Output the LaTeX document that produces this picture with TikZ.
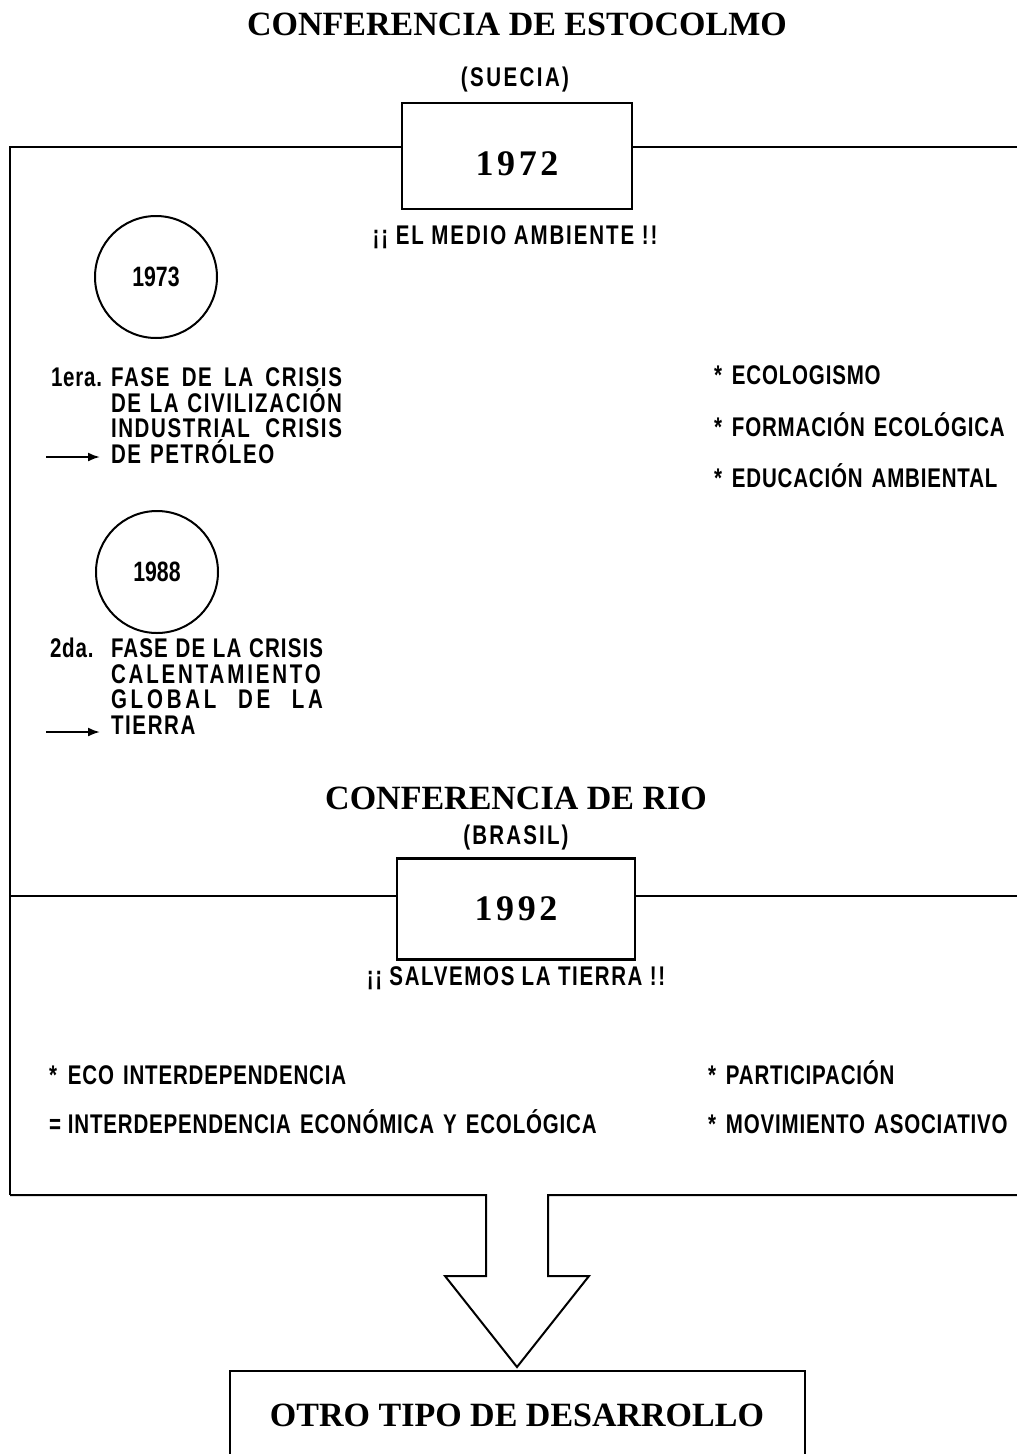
\documentclass[tikz,border=0pt]{standalone}
\usepackage{fontspec}
\setmainfont{Liberation Serif}
\newfontfamily\rotulo[FakeStretch=0.76]{Liberation Sans}
\usetikzlibrary{arrows.meta,positioning,calc}
\newcommand{\justo}[1]{\makebox[\hsize][l]{#1}}

\begin{document}
\begin{tikzpicture}[x=1pt,y=-1pt,>={Latex[length=12pt,width=9pt]},line width=2pt,node distance=25.5pt,
  titulo/.style={font=\fontsize{34}{40}\selectfont\bfseries,inner sep=0pt},
  texto/.style={font=\rotulo\bfseries\fontsize{27}{30}\selectfont\addfontfeature{LetterSpace=3},inner sep=0pt},
  espaciado/.style={font=\rotulo\bfseries\fontsize{27}{30}\selectfont\addfontfeature{LetterSpace=#1},inner sep=0pt},
  espaciado/.default=7,
  anio/.style={draw,line width=2.5pt,font=\fontsize{36}{40}\selectfont\bfseries\addfontfeature{LetterSpace=10}},
  fecha/.style={draw,circle,minimum size=122pt,inner sep=0pt,font=\rotulo\bfseries\fontsize{28}{30}\selectfont},
  renglon/.style={font=\rotulo\bfseries\fontsize{27}{30}\selectfont\addfontfeature{LetterSpace=6},inner sep=0pt,
    text width=#1,align=left,text height=19pt,text depth=0pt},
  lista/.style={texto,text width=#1,align=left,text height=19pt,text depth=0pt}
]
\useasboundingbox (0,0) rectangle (1017,1454);

% esquinas del marco
\coordinate (nw) at (10,147);
\coordinate (ne) at (1017,147);
\coordinate (mw) at (10,896);
\coordinate (me) at (1017,896);
\coordinate (sw) at (10,1195);
\coordinate (se) at (1017,1195);

% Estocolmo
\node[titulo]    (estocolmo) at (517,24)  {CONFERENCIA DE ESTOCOLMO};
\node[espaciado=9] (suecia) at (515,80) {(SUECIA)};
\node[anio,minimum width=230pt,minimum height=106pt,text height=38pt,text depth=0pt] (caja72) at (517,156) {1972};
\node[espaciado] (lema72)    at (515,237) {¡¡ EL MEDIO AMBIENTE !!};

\node[fecha] (f73) at (156,277) {1973};
\node[texto,anchor=west] (era) at (50,377) {1era.};
\node[renglon=231pt,anchor=west] (c1a) at (110,377) {\justo{FASE\hfill DE\hfill LA\hfill CRISIS}};
\node[renglon=231pt] (c1b) [below of=c1a] {\justo{DE\hfill LA\hfill CIVILIZACIÓN}};
\node[renglon=231pt] (c1c) [below of=c1b] {\justo{INDUSTRIAL\hfill CRISIS}};
\node[renglon=231pt] (c1d) [below of=c1c] {DE PETRÓLEO};

\node[fecha] (f88) at (157,572) {1988};
\node[texto,anchor=west] (da) at (49,648) {2da.};
\node[renglon=212pt,anchor=west] (c2a) at (110,648) {\justo{\addfontfeature{LetterSpace=4}FASE\hfill DE\hfill LA\hfill CRISIS}};
\node[renglon=212pt] (c2b) [below of=c2a] {\justo{\addfontfeature{LetterSpace=10.5}CALENTAMIENTO}};
\node[renglon=212pt] (c2c) [below of=c2b] {\justo{\addfontfeature{LetterSpace=14}GLOBAL\hfill DE\hfill LA}};
\node[renglon=212pt] (c2d) [below of=c2c] {TIERRA};

\node[lista=300pt,anchor=west] (eco1) at (713,375) {*\hspace{10pt}ECOLOGISMO};
\node[lista=300pt,node distance=51.5pt] (eco2) [below of=eco1] {*\hspace{10pt}FORMACIÓN ECOLÓGICA};
\node[lista=300pt,node distance=51.5pt] (eco3) [below of=eco2] {*\hspace{10pt}EDUCACIÓN AMBIENTAL};

% Rio
\node[titulo]    (rio)    at (516,798) {CONFERENCIA DE RIO};
\node[espaciado=8] (brasil) at (516,838) {(BRASIL)};
\node[anio,minimum width=238pt,minimum height=101pt] (caja92) at (516,909) {1992};
\node[espaciado=6] (lema92) at (516,978) {¡¡ SALVEMOS LA TIERRA !!};

\node[lista=560pt,anchor=west] (int1) at (48,1075) {*\hspace{11pt}ECO INTERDEPENDENCIA};
\node[lista=560pt,node distance=49pt] (int2) [below of=int1] {=\hspace{7pt}INTERDEPENDENCIA ECONÓMICA Y ECOLÓGICA};
\node[lista=300pt,anchor=west] (par1) at (707,1075) {*\hspace{10pt}PARTICIPACIÓN};
\node[lista=300pt,node distance=49pt] (par2) [below of=par1] {*\hspace{10pt}MOVIMIENTO ASOCIATIVO};

\node[titulo,draw,minimum width=575pt,minimum height=88pt] (desarrollo) at (517,1415) {OTRO TIPO DE DESARROLLO};

% marco y lineas
\draw (sw) -- (nw) -- (nw -| caja72.west);
\draw (caja72.east |- ne) -- (ne);
\draw (mw) -- (mw -| caja92.west);
\draw (caja92.east |- me) -- (me);

% flecha grande
\coordinate (punta) at ($(desarrollo.north)+(0,-3)$);
\coordinate (hl) at ($(punta)+(-31,-91)$);
\coordinate (hr) at ($(punta)+(31,-91)$);
\draw (sw) -- (sw -| hl) -- (hl) -- ($(punta)+(-72,-91)$) -- (punta)
  -- ($(punta)+(72,-91)$) -- (hr) -- (se -| hr) -- (se);

% flechitas
\coordinate (p1) at (46,457);
\coordinate (p2) at (46,732);
\draw[->,shorten >=10pt] (p1) -- (p1 -| c1d.west);
\draw[->,shorten >=10pt] (p2) -- (p2 -| c2d.west);
\end{tikzpicture}
\end{document}
